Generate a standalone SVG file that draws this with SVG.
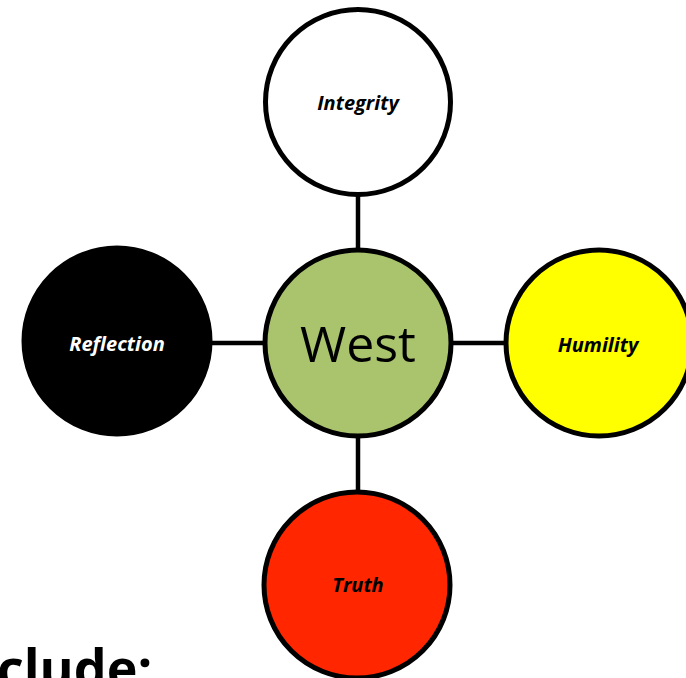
<svg xmlns="http://www.w3.org/2000/svg" width="686" height="678" viewBox="0 0 686 678">
<style>
.node{stroke:#000;stroke-width:5}
.conn{stroke:#000;stroke-width:4.5;fill:none}
.lbl{font-family:"Open Sans","Liberation Sans",sans-serif;font-weight:bold;font-style:italic;font-size:20px;text-anchor:middle}
.big{font-family:"Open Sans","Liberation Sans",sans-serif;font-size:50px;text-anchor:middle}
.head{font-family:"Open Sans","Liberation Sans",sans-serif;font-weight:bold;font-size:52px}
</style>
<rect width="686" height="678" fill="#fff"/>
<g id="connectors">
<line class="conn" x1="358" y1="196" x2="358" y2="250"/>
<line class="conn" x1="358" y1="436" x2="358" y2="492"/>
<line class="conn" x1="210" y1="343" x2="266" y2="343"/>
<line class="conn" x1="450" y1="343" x2="507" y2="343"/>
</g>
<g id="integrity">
<circle class="node" cx="358" cy="102" r="92.5" fill="#fff"/>
<text class="lbl" x="358" y="110" fill="#000">Integrity</text>
</g>
<g id="west">
<circle class="node" cx="358" cy="343" r="93" fill="#A9C46D"/>
<text class="big" x="358" y="362" fill="#000">West</text>
</g>
<g id="reflection">
<circle class="node" cx="117" cy="341" r="93" fill="#000"/>
<text class="lbl" x="117" y="351" fill="#fff">Reflection</text>
</g>
<g id="humility">
<circle class="node" cx="599" cy="343" r="93" fill="#FFFF00"/>
<text class="lbl" x="598" y="352" fill="#000">Humility</text>
</g>
<g id="truth">
<circle class="node" cx="357" cy="585" r="93" fill="#FF2600"/>
<text class="lbl" x="358" y="592" fill="#000">Truth</text>
</g>
<text class="head" x="-3" y="687" fill="#000">clude:</text>
</svg>
